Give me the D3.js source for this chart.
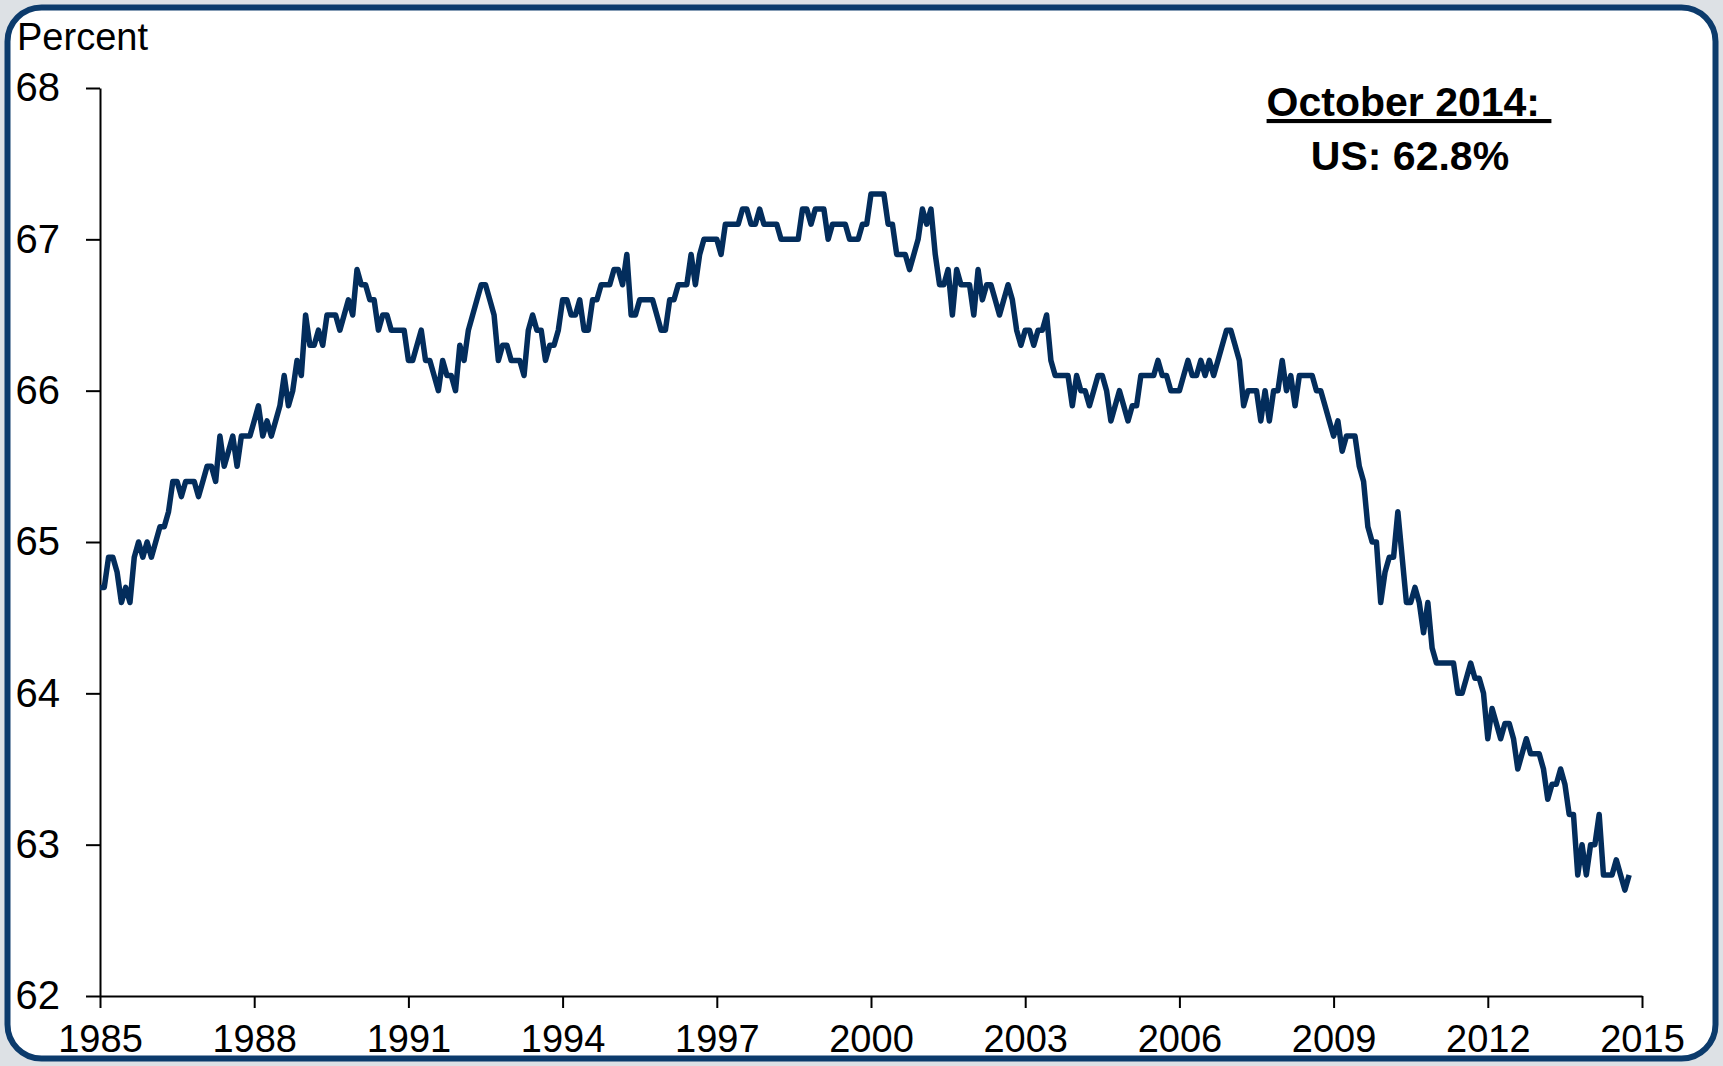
<!DOCTYPE html>
<html>
<head>
<meta charset="utf-8">
<script src="https://cdn.jsdelivr.net/npm/d3@7/dist/d3.min.js"></script>
<style>
  body { margin: 0; background: #dde1e5; }
  svg { display: block; font-family: "Liberation Sans", Arial, sans-serif; }
</style>
</head>
<body>
<div id="chart"></div>
<script>
// monthly labour force participation rate, Jan 1985 - Oct 2014
var startYear = 1985;
var rate1985to1994 = [
  64.7, 64.7, 64.9, 64.9, 64.8, 64.6, 64.7, 64.6, 64.9, 65.0, 64.9, 65.0,
  64.9, 65.0, 65.1, 65.1, 65.2, 65.4, 65.4, 65.3, 65.4, 65.4, 65.4, 65.3,
  65.4, 65.5, 65.5, 65.4, 65.7, 65.5, 65.6, 65.7, 65.5, 65.7, 65.7, 65.7,
  65.8, 65.9, 65.7, 65.8, 65.7, 65.8, 65.9, 66.1, 65.9, 66.0, 66.2, 66.1,
  66.5, 66.3, 66.3, 66.4, 66.3, 66.5, 66.5, 66.5, 66.4, 66.5, 66.6, 66.5,
  66.8, 66.7, 66.7, 66.6, 66.6, 66.4, 66.5, 66.5, 66.4, 66.4, 66.4, 66.4,
  66.2, 66.2, 66.3, 66.4, 66.2, 66.2, 66.1, 66.0, 66.2, 66.1, 66.1, 66.0,
  66.3, 66.2, 66.4, 66.5, 66.6, 66.7, 66.7, 66.6, 66.5, 66.2, 66.3, 66.3,
  66.2, 66.2, 66.2, 66.1, 66.4, 66.5, 66.4, 66.4, 66.2, 66.3, 66.3, 66.4,
  66.6, 66.6, 66.5, 66.5, 66.6, 66.4, 66.4, 66.6, 66.6, 66.7, 66.7, 66.7
];
var rate1995to2004 = [
  66.8, 66.8, 66.7, 66.9, 66.5, 66.5, 66.6, 66.6, 66.6, 66.6, 66.5, 66.4,
  66.4, 66.6, 66.6, 66.7, 66.7, 66.7, 66.9, 66.7, 66.9, 67.0, 67.0, 67.0,
  67.0, 66.9, 67.1, 67.1, 67.1, 67.1, 67.2, 67.2, 67.1, 67.1, 67.2, 67.1,
  67.1, 67.1, 67.1, 67.0, 67.0, 67.0, 67.0, 67.0, 67.2, 67.2, 67.1, 67.2,
  67.2, 67.2, 67.0, 67.1, 67.1, 67.1, 67.1, 67.0, 67.0, 67.0, 67.1, 67.1,
  67.3, 67.3, 67.3, 67.3, 67.1, 67.1, 66.9, 66.9, 66.9, 66.8, 66.9, 67.0,
  67.2, 67.1, 67.2, 66.9, 66.7, 66.7, 66.8, 66.5, 66.8, 66.7, 66.7, 66.7,
  66.5, 66.8, 66.6, 66.7, 66.7, 66.6, 66.5, 66.6, 66.7, 66.6, 66.4, 66.3,
  66.4, 66.4, 66.3, 66.4, 66.4, 66.5, 66.2, 66.1, 66.1, 66.1, 66.1, 65.9,
  66.1, 66.0, 66.0, 65.9, 66.0, 66.1, 66.1, 66.0, 65.8, 65.9, 66.0, 65.9
];
var rate2005to2014 = [
  65.8, 65.9, 65.9, 66.1, 66.1, 66.1, 66.1, 66.2, 66.1, 66.1, 66.0, 66.0,
  66.0, 66.1, 66.2, 66.1, 66.1, 66.2, 66.1, 66.2, 66.1, 66.2, 66.3, 66.4,
  66.4, 66.3, 66.2, 65.9, 66.0, 66.0, 66.0, 65.8, 66.0, 65.8, 66.0, 66.0,
  66.2, 66.0, 66.1, 65.9, 66.1, 66.1, 66.1, 66.1, 66.0, 66.0, 65.9, 65.8,
  65.7, 65.8, 65.6, 65.7, 65.7, 65.7, 65.5, 65.4, 65.1, 65.0, 65.0, 64.6,
  64.8, 64.9, 64.9, 65.2, 64.9, 64.6, 64.6, 64.7, 64.6, 64.4, 64.6, 64.3,
  64.2, 64.2, 64.2, 64.2, 64.2, 64.0, 64.0, 64.1, 64.2, 64.1, 64.1, 64.0,
  63.7, 63.9, 63.8, 63.7, 63.8, 63.8, 63.7, 63.5, 63.6, 63.7, 63.6, 63.6,
  63.6, 63.5, 63.3, 63.4, 63.4, 63.5, 63.4, 63.2, 63.2, 62.8, 63.0, 62.8,
  63.0, 63.0, 63.2, 62.8, 62.8, 62.8, 62.9, 62.8, 62.7, 62.8
];
var yearTicks = [1985, 1988, 1991, 1994, 1997, 2000, 2003, 2006, 2009, 2012, 2015];
var percentTicks = [62, 63, 64, 65, 66, 67, 68];
var unitLabel = "Percent";
var noteTitle = "October 2014: ";
var noteValue = "US: 62.8%";

var width = 1723, height = 1066;
var margin = {top: 88, right: 81, bottom: 70, left: 100};

var rates = rate1985to1994.concat(rate1995to2004, rate2005to2014);
var data = rates.map(function(v, i) { return {time: startYear + i / 12, value: v}; });

var svg = d3.select("#chart")
  .append("svg")
    .attr("width", width)
    .attr("height", height);

// rounded frame
svg.append("rect")
    .attr("x", 7.5).attr("y", 7.5)
    .attr("width", width - 15).attr("height", height - 15)
    .attr("rx", 34).attr("ry", 34)
    .style("fill", "#ffffff")
    .style("stroke", "#0c3b6c")
    .style("stroke-width", 6);

var x = d3.scaleLinear()
  .domain([1985, 2015])
  .range([margin.left, width - margin.right]);

var y = d3.scaleLinear()
  .domain([62, 68])
  .range([height - margin.bottom, margin.top]);

var xAxis = svg.append("g")
  .attr("transform", "translate(0," + y(62) + ")")
  .call(d3.axisBottom(x).tickValues(yearTicks).tickFormat(d3.format("d")).tickSize(12).tickPadding(17).tickSizeOuter(0));

var yAxis = svg.append("g")
  .attr("transform", "translate(" + x(1985) + ",0)")
  .call(d3.axisLeft(y).tickValues(percentTicks).tickFormat(d3.format("d")).tickSize(14).tickPadding(26).tickSizeOuter(0));

[xAxis, yAxis].forEach(function(g) {
  g.select(".domain").style("stroke", "#000").style("stroke-width", 2);
  g.selectAll(".tick line").style("stroke", "#000").style("stroke-width", 2);
  g.selectAll(".tick text")
    .style("font-family", "'Liberation Sans', Arial, sans-serif")
    .style("font-size", "38px")
    .style("fill", "#000");
});
yAxis.selectAll(".tick text").style("font-size", "40px");

svg.append("text")
  .attr("x", 17)
  .attr("y", 50)
  .style("font-size", "38px")
  .text(unitLabel);

var line = d3.line()
  .x(function(d) { return x(d.time) })
  .y(function(d) { return y(d.value) });

svg.append("path")
  .datum(data)
  .attr("d", line)
  .style("fill", "none")
  .style("stroke", "#032d5c")
  .style("stroke-width", 5.5)
  .style("stroke-linejoin", "round");

// annotation
svg.append("text")
  .attr("x", 1409)
  .attr("y", 116)
  .attr("text-anchor", "middle")
  .style("font-size", "41px")
  .style("font-weight", "bold")
  .style("text-decoration", "underline")
  .style("white-space", "pre")
  .text(noteTitle);

svg.append("text")
  .attr("x", 1410)
  .attr("y", 170)
  .attr("text-anchor", "middle")
  .style("font-size", "41px")
  .style("font-weight", "bold")
  .text(noteValue);
</script>
</body>
</html>
